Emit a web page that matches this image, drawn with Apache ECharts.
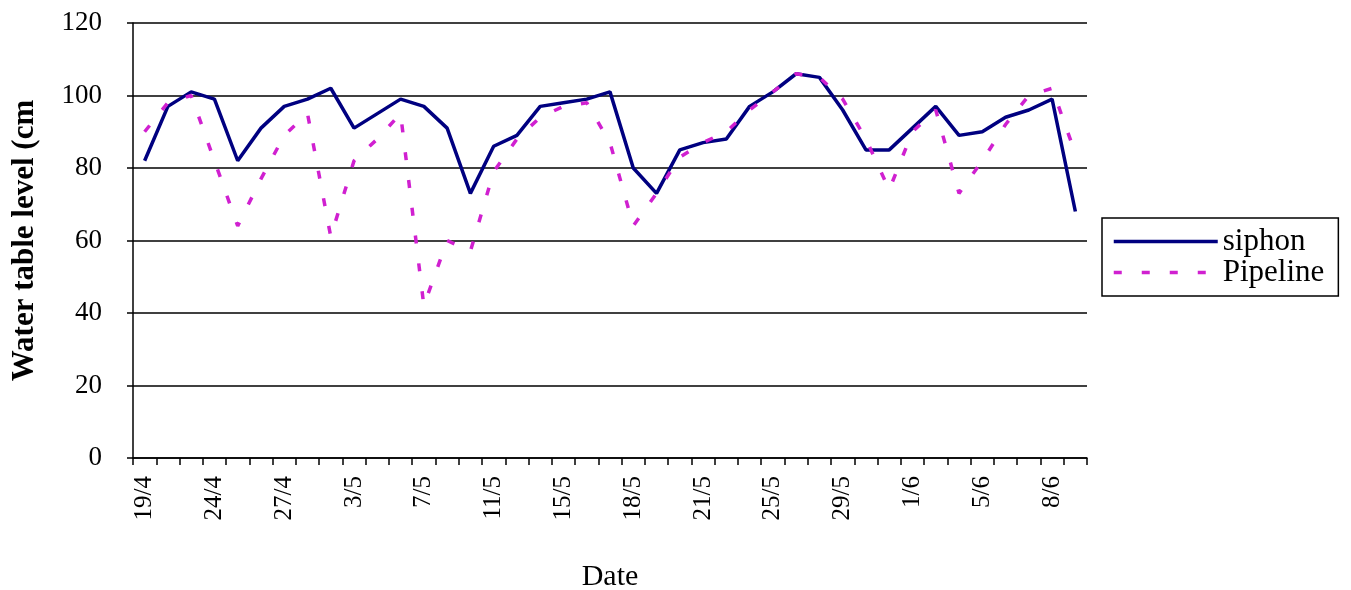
<!DOCTYPE html>
<html>
<head>
<meta charset="utf-8">
<script src="https://cdn.jsdelivr.net/npm/echarts@6/dist/echarts.min.js"></script>
<style>
html,body{margin:0;padding:0;background:#fff;}
#chart{width:1351px;height:590px;}
</style>
</head>
<body>
<div id="chart"></div>
<script>
const dates = ['19/4','21/4','22/4','24/4','25/4','26/4','27/4','29/4','1/5','3/5','4/5','6/5','7/5','8/5','10/5','11/5','13/5','14/5','15/5','16/5','17/5','18/5','19/5','20/5','21/5','22/5','24/5','25/5','26/5','28/5','29/5','30/5','31/5','1/6','3/6','4/6','5/6','6/6','7/6','8/6','9/6'];
const siphon = [82, 97, 101, 99, 82, 91, 97, 99, 102, 91, 95, 99, 97, 91, 73, 86, 89, 97, 98, 99, 101, 80, 73, 85, 87, 88, 97, 101, 106, 105, 96, 85, 85, 91, 97, 89, 90, 94, 96, 99, 68];
const pipeline = [90, 98, 100, 82, 64, 77, 89, 95, 61, 82, 88, 95, 42, 60, 57, 79, 88, 94, 97, 98, 87, 64, 73, 83, 87, 90, 96, 101, 106, 105, 99, 88, 74, 90, 96, 73, 82, 92, 100, 102, 84];
const yTicks = {min: 0, max: 120, interval: 20};

const font = 'Liberation Serif, Times New Roman, serif';
const chart = echarts.init(document.getElementById('chart'), null, {renderer: 'canvas'});
chart.setOption({
  backgroundColor: '#ffffff',
  animation: false,
  grid: {left: 133, right: 264, top: 23, bottom: 132, containLabel: false, outerBoundsMode: 'none'},
  legend: {
    orient: 'vertical',
    left: 1102,
    top: 218,
    itemWidth: 104,
    itemHeight: 14,
    itemGap: 0,
    padding: [8, 14, 8, 10],
    borderColor: '#000',
    borderWidth: 1.5,
    itemStyle: {opacity: 0},
    lineStyle: {width: 3.5},
    textStyle: {fontFamily: font, fontSize: 31, color: '#000', lineHeight: 31},
    data: ['siphon', 'Pipeline']
  },
  xAxis: {
    type: 'category',
    data: dates,
    boundaryGap: true,
    name: 'Date',
    nameLocation: 'middle',
    nameGap: 104,
    nameTextStyle: {fontFamily: font, fontSize: 30, color: '#000'},
    axisLine: {lineStyle: {color: '#000', width: 1.5}},
    axisTick: {show: true, interval: 0, length: 7, lineStyle: {color: '#000', width: 1.5}},
    axisLabel: {interval: 2, rotate: 90, fontFamily: font, fontSize: 25, color: '#000', margin: 18},
    splitLine: {show: false}
  },
  yAxis: {
    type: 'value',
    min: yTicks.min,
    max: yTicks.max,
    interval: yTicks.interval,
    name: 'Water table level (cm',
    nameLocation: 'middle',
    nameRotate: 90,
    nameGap: 93,
    nameTextStyle: {fontFamily: font, fontSize: 31, fontWeight: 'bold', color: '#000'},
    axisLine: {show: true, lineStyle: {color: '#000', width: 1.5}},
    axisTick: {show: true, length: 6, lineStyle: {color: '#000', width: 1.5}},
    axisLabel: {fontFamily: font, fontSize: 27, color: '#000', margin: 31},
    splitLine: {show: true, lineStyle: {color: '#000', width: 1.5}}
  },
  series: [
    {
      name: 'siphon',
      type: 'line',
      data: siphon,
      symbol: 'none',
      color: '#000080',
      lineStyle: {color: '#000080', width: 3.5}
    },
    {
      name: 'Pipeline',
      type: 'line',
      data: pipeline,
      symbol: 'none',
      color: '#d020d0',
      lineStyle: {color: '#d020d0', width: 3.5, type: [8, 20]}
    }
  ]
});
</script>
</body>
</html>
